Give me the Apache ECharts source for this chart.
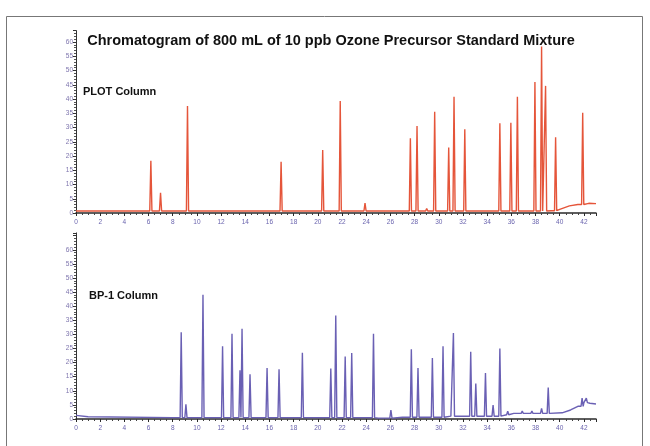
<!DOCTYPE html>
<html><head><meta charset="utf-8">
<script src="https://cdn.jsdelivr.net/npm/echarts@6/dist/echarts.min.js"></script>
<style>html,body{margin:0;padding:0;background:#fff}#c{width:650px;height:446px}</style>
</head><body><div id="c"></div>
<script>
// ---- data ----
const titleText = 'Chromatogram of 800 mL of 10 ppb Ozone Precursor Standard Mixture';
const topLabel = 'PLOT Column';
const bottomLabel = 'BP-1 Column';
const xRange = [0, 43];      // minutes
const xStep = 2;             // x tick labels 0,2,...,42
const yStep = 5;             // y tick labels 0,5,...,60
const yLabelMax = 60;
const topYMax = 64;
const bottomYMax = 66;

// PLOT column: [retention time, peak height]
const plotPeaks = [[6.19,18.3],[6.99,7.1],[9.22,37.5],[16.96,18],[20.4,22.1],[21.85,39.3],[23.9,3.5],[26.3,1.4],
  [27.65,26.2],[28.2,30.5],[29.0,1.6],[29.66,35.5],[30.82,23],[31.26,40.8],[32.15,29.4],[35.05,31.5],[35.96,31.7],
  [36.5,40.8],[37.95,46],[38.5,58.4],[38.83,44.6],[39.66,26.6],[41.9,35.2]];
// PLOT column baseline: [time, level]
const plotBaseline = [[0,0.7],[39.3,0.8],[40.0,1.3],[40.8,2.5],[41.5,3.0],[42.4,3.4],[43,3.3]];

// BP-1 column peaks
const bp1Peaks = [[8.70,30.8],[9.09,5.2],[10.5,44.1],[12.12,25.8],[12.9,30.2],[13.56,17.3],[13.73,32],[14.39,15.9],
  [15.8,18.1],[16.79,17.6],[18.72,23.5],[21.07,17.9],[21.48,36.7],[22.26,22.2],[22.8,23.4],[24.6,30.2],[26.04,3.2],
  [27.73,24.7],[28.28,18.1],[29.47,21.6],[30.35,25.8],[31.21,30.5],[32.64,23.8],[33.06,12.6],[33.86,16.3],[34.49,4.9],
  [35.05,25],[35.7,2.8],[36.9,2.8],[37.7,2.8],[38.5,3.8],[39.05,11.2],[41.85,7.4],[42.2,7.4]];
// BP-1 column baseline
const bp1Baseline = [[0,1.3],[1,0.8],[8,0.5],[25,0.3],[27,0.6],[31,1.0],[35.3,1.5],[36.2,2.0],[40.2,2.2],[40.9,3.2],[41.5,4.5],[42.0,5.8],[42.5,5.6],[43,5.3]];

// ---- build traces (peak feet on the baseline level) ----
const HALF_W = 0.09;
function baseAt(baseline, t){
  let v = baseline[0][1];
  for (const p of baseline){ if (p[0] <= t) v = p[1]; }
  return v;
}
function buildTrace(baseline, peaks){
  const pts = baseline.map(p => [p[0], p[1]]);
  for (const [t, h] of peaks){
    const b = baseAt(baseline, t);
    pts.push([t - HALF_W, b], [t, h], [t + HALF_W, b]);
  }
  pts.sort((a, b) => a[0] - b[0]);
  return pts;
}

const chart = echarts.init(document.getElementById('c'));
const labelColor = '#6a64ae';
function xAxisCfg(gi){
  return {
    type:'value', gridIndex:gi, min:xRange[0], max:xRange[1], interval:xStep,
    axisLine:{show:true, onZero:false, lineStyle:{color:'#2a2a2a', width:1.5}},
    axisTick:{show:true, length:3, lineStyle:{color:'#2a2a2a'}},
    minorTick:{show:true, splitNumber:4, length:2, lineStyle:{color:'#444'}},
    axisLabel:{fontSize:6.5, color:labelColor, margin:6, showMaxLabel:false, fontFamily:'Liberation Sans'},
    splitLine:{show:false}
  };
}
function yAxisCfg(gi, max){
  return {
    type:'value', gridIndex:gi, min:0, max:max, interval:yStep,
    axisLine:{show:true, lineStyle:{color:'#333', width:1}},
    axisTick:{show:true, length:3, lineStyle:{color:'#333'}},
    minorTick:{show:true, splitNumber:5, length:2, lineStyle:{color:'#555'}},
    axisLabel:{fontSize:6.5, color:'#7d74ad', margin:3, showMaxLabel:false, fontFamily:'Liberation Sans',
      formatter: v => (v <= yLabelMax && v % yStep === 0) ? String(v) : ''},
    splitLine:{show:false}
  };
}

chart.setOption({
  animation:false,
  backgroundColor:'#fff',
  grid:[
    {left:76, right:54, top:213-topYMax*2.85, bottom:446-213},
    {left:76, right:54, top:419-bottomYMax*2.82, bottom:446-419}
  ],
  xAxis:[xAxisCfg(0), xAxisCfg(1)],
  yAxis:[yAxisCfg(0, topYMax), yAxisCfg(1, bottomYMax)],
  series:[
    {type:'line', xAxisIndex:0, yAxisIndex:0, data:buildTrace(plotBaseline, plotPeaks), showSymbol:false,
     lineStyle:{color:'#e5553a', width:1.4}},
    {type:'line', xAxisIndex:1, yAxisIndex:1, data:buildTrace(bp1Baseline, bp1Peaks), showSymbol:false,
     lineStyle:{color:'#6a60b4', width:1.4}}
  ],
  graphic:[
    {type:'rect', shape:{x:6.5, y:16.5, width:636, height:450}, style:{fill:'none', stroke:'#777', lineWidth:1}, silent:true},
    {type:'text', x:331, y:41, style:{text:titleText, font:'bold 14.5px "Liberation Sans", Arial, sans-serif', fill:'#111', align:'center', verticalAlign:'middle'}},
    {type:'text', x:83, y:92, style:{text:topLabel, font:'bold 11px "Liberation Sans", Arial, sans-serif', fill:'#111', align:'left', verticalAlign:'middle'}},
    {type:'text', x:89, y:296, style:{text:bottomLabel, font:'bold 11px "Liberation Sans", Arial, sans-serif', fill:'#111', align:'left', verticalAlign:'middle'}}
  ]
});
</script></body></html>
